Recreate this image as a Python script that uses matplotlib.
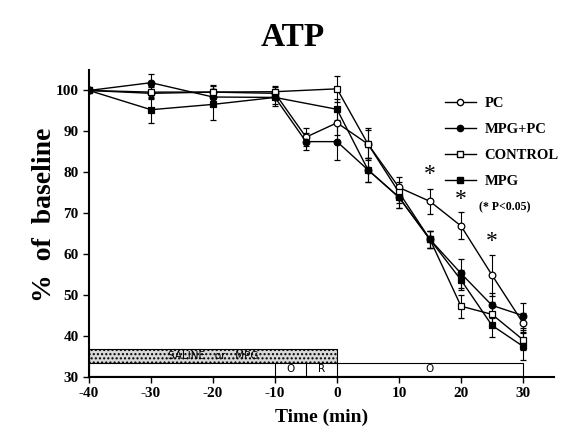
import matplotlib
matplotlib.use("Agg")
import matplotlib.pyplot as plt
from matplotlib.patches import Rectangle
from matplotlib.lines import Line2D

plt.rcParams["axes.unicode_minus"] = False

# ---- data ----
t_pc = [-40, -30, -20, -10, -5, 0, 5, 10, 15, 20, 25, 30]
t_ctl = [-40, -30, -20, -10, 0, 5, 10, 15, 20, 25, 30]

pc = [100, 99.3, 99.6, 99.3, 88.6, 92.1, 86.9, 76.3, 72.9, 66.9, 54.9, 43.2]
pc_err = [0, 1.5, 1.5, 1.5, 2.2, 3.0, 3.5, 2.5, 3.0, 3.3, 5.0, 2.5]

mpgpc = [100, 101.9, 98.4, 98.3, 87.5, 87.5, 80.6, 73.9, 63.6, 55.3, 47.5, 45.0]
mpgpc_err = [0, 2.2, 2.0, 1.5, 2.0, 4.6, 3.0, 2.5, 2.0, 3.5, 3.0, 3.0]

control = [100, 99.6, 99.6, 99.7, 100.4, 86.9, 75.1, 63.6, 47.3, 45.3, 39.1]
control_err = [0, 1.5, 1.8, 1.5, 3.1, 4.0, 2.5, 2.0, 2.8, 3.0, 2.5]

mpg = [100, 95.3, 96.6, 98.3, 95.4, 80.6, 73.9, 63.6, 53.7, 42.6, 37.5]
mpg_err = [0, 3.2, 3.8, 2.0, 2.5, 3.0, 2.5, 2.0, 2.5, 2.8, 3.4]

star_times = [15, 20, 25]
star_y = [79.5, 73.3, 63.0]

x_ticks = [-40, -30, -20, -10, 0, 10, 20, 30]
y_ticks = [30, 40, 50, 60, 70, 80, 90, 100]

serif = "Liberation Serif"

fig = plt.figure(figsize=(5.86, 4.46), dpi=100)
ax = fig.add_axes([89/586, 1-377/446, (554-89)/586, (377-70)/446])
ax.set_xlim(-40, 35)
ax.set_ylim(30, 105)

common = dict(color="black", lw=1.0, capsize=2.5, elinewidth=0.8, capthick=0.8, ms=4.8, mew=0.9)
ax.errorbar(t_pc, pc, yerr=pc_err, marker="o", mfc="white", mec="black", **common)
ax.errorbar(t_pc, mpgpc, yerr=mpgpc_err, marker="o", mfc="black", mec="black", **common)
ax.errorbar(t_ctl, control, yerr=control_err, marker="s", mfc="white", mec="black", **common)
ax.errorbar(t_ctl, mpg, yerr=mpg_err, marker="s", mfc="black", mec="black", **common)

for tx, ty in zip(star_times, star_y):
    ax.text(tx, ty, "*", ha="center", va="center", fontsize=17, family=serif)

# protocol bars
ax.add_patch(Rectangle((-40, 33.4), 40, 3.4, facecolor="#d8d8d8", edgecolor="black",
                       hatch="....", lw=0.8, zorder=1))
ax.text(-20, 35.1, "SALINE   or   MPG", ha="center", va="center", fontsize=7.5,
        family="DejaVu Sans", zorder=2)
ax.add_patch(Rectangle((-40, 30.3), 70, 3.1, facecolor="white", edgecolor="black", lw=0.8, zorder=1))
for xv in [-10, -5, 0]:
    ax.plot([xv, xv], [30.3, 33.4], color="black", lw=0.8, zorder=1)
ax.text(-7.5, 31.85, "O", ha="center", va="center", fontsize=7.5, family="DejaVu Sans")
ax.text(-2.5, 31.85, "R", ha="center", va="center", fontsize=7.5, family="DejaVu Sans")
ax.text(15, 31.85, "O", ha="center", va="center", fontsize=7.5, family="DejaVu Sans")

ax.spines["top"].set_visible(False)
ax.spines["right"].set_visible(False)
ax.spines["left"].set_linewidth(1.5)
ax.spines["bottom"].set_linewidth(1.5)
ax.set_xticks(x_ticks)
ax.set_yticks(y_ticks)
ax.tick_params(direction="out", length=4, width=1)
for lab in ax.get_xticklabels() + ax.get_yticklabels():
    lab.set_fontfamily(serif)
    lab.set_fontweight("bold")
    lab.set_fontsize(11)

ax.set_xlabel("Time (min)", fontsize=14, fontweight="bold", family=serif, labelpad=6)
fig.text(45/586, 1-215/446, "%  of  baseline", rotation=90, ha="center", va="center",
         fontsize=20, fontweight="bold", family=serif)
fig.text(293/586, 1-38/446, "ATP", ha="center", va="center", fontsize=24,
         fontweight="bold", family=serif)

handles = [
    Line2D([], [], color="black", lw=1.0, marker="o", mfc="white", mec="black", ms=4.5, label="PC"),
    Line2D([], [], color="black", lw=1.0, marker="o", mfc="black", mec="black", ms=4.5, label="MPG+PC"),
    Line2D([], [], color="black", lw=1.0, marker="s", mfc="white", mec="black", ms=4.5, label="CONTROL"),
    Line2D([], [], color="black", lw=1.0, marker="s", mfc="black", mec="black", ms=4.5, label="MPG"),
]
fig.legend(handles=handles, loc="upper left",
           bbox_to_anchor=(432/586, 1-84/446), frameon=False, handlelength=2.1,
           handletextpad=0.6, labelspacing=0.88,
           prop={"family": serif, "weight": "bold", "size": 10.5})
fig.text(505/586, 1-207/446, "(* P<0.05)", ha="center", va="center", fontsize=8.5,
         fontweight="bold", family=serif)

fig.savefig("out.png", dpi=100)
